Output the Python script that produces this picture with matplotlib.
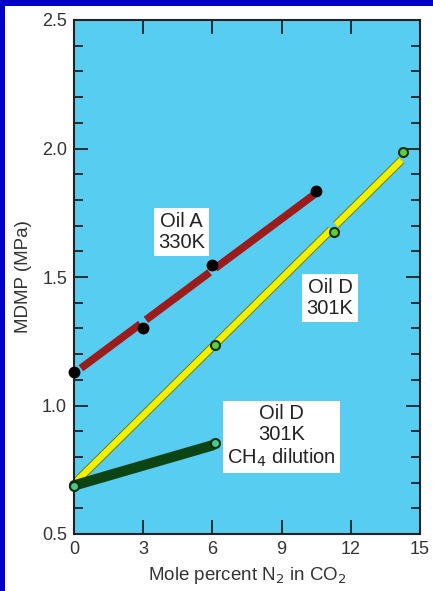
import matplotlib
matplotlib.use("Agg")
import matplotlib.pyplot as plt
from matplotlib.patches import Rectangle
from matplotlib.ticker import MultipleLocator
import numpy as np

plt.rcParams['font.family'] = ['Liberation Sans', 'DejaVu Sans']

# measured points
oil_a_x = [0.0, 3.0, 6.0, 10.5]
oil_a_y = [1.13, 1.30, 1.545, 1.835]
oil_d_x = [0.0, 6.1, 11.25, 14.25]
oil_d_y = [0.69, 1.235, 1.675, 1.985]
ch4_x = [0.0, 6.1]
ch4_y = [0.685, 0.853]

# fitted lines (end points)
oil_a_fit_x = [0.3, 10.4]
oil_a_fit_y = [1.145, 1.82]
oil_d_fit_x = [0.05, 14.2]
oil_d_fit_y = [0.70, 1.955]
ch4_fit_x = [0.05, 6.0]
ch4_fit_y = [0.69, 0.845]

x_ticks = [0, 3, 6, 9, 12, 15]
y_ticks = [0.5, 1.0, 1.5, 2.0, 2.5]

fig = plt.figure(figsize=(4.33, 5.91), dpi=100)
fig.patch.set_facecolor('#0000c4')
fig.patches.append(Rectangle((5 / 433, 0), 1, 585 / 591, transform=fig.transFigure,
                             facecolor='white', edgecolor='none', zorder=-10))

ax = fig.add_axes([74 / 433, 57 / 591, 346 / 433, 514 / 591])
ax.set_facecolor('#58cdf2')


def broken_line(fx, fy, breaks, gap, **kw):
    # draw the fit line in pieces, leaving a small gap at each inner point
    x0, x1 = fx
    slope = (fy[1] - fy[0]) / (x1 - x0)
    edges = [x0]
    for b in breaks:
        edges += [b - gap, b + gap]
    edges.append(x1)
    for a, b in zip(edges[::2], edges[1::2]):
        xs = np.array([a, b])
        ax.plot(xs, fy[0] + slope * (xs - x0), solid_capstyle='butt', **kw)


broken_line(oil_a_fit_x, oil_a_fit_y, oil_a_x[1:3], 0.12,
            color='#9c1c1c', lw=5.5, zorder=2)
broken_line(oil_d_fit_x, oil_d_fit_y, oil_d_x[1:3], 0.1,
            color='#6f7a10', lw=6, zorder=2)
broken_line(oil_d_fit_x, oil_d_fit_y, oil_d_x[1:3], 0.1,
            color='#f2f200', lw=4.6, zorder=2)
ax.plot(ch4_fit_x, ch4_fit_y, color='#0c4414', lw=7.5, solid_capstyle='round', zorder=2)

ax.plot(oil_a_x, oil_a_y, 'o', color='black', ms=7.5, zorder=4, clip_on=False)
ax.plot(oil_d_x, oil_d_y, 'o', mfc='#5ccf3a', mec='#10300c', mew=1.5, ms=6.5,
        zorder=4, clip_on=False)
ax.plot(ch4_x, ch4_y, 'o', mfc='#48c890', mec='#10300c', mew=1.5, ms=6.5,
        zorder=4, clip_on=False)

box = dict(facecolor='white', edgecolor='none', pad=3)
ax.text(4.67, 1.675, 'Oil A\n330K', ha='center', va='center', fontsize=14.5,
        color='#222222', bbox=box, linespacing=1.15, zorder=5)
ax.text(11.1, 1.418, 'Oil D\n301K', ha='center', va='center', fontsize=14.5,
        color='#222222', bbox=box, linespacing=1.15, zorder=5)
ax.text(9.0, 0.88, 'Oil D\n301K\nCH$_4$ dilution', ha='center', va='center',
        fontsize=14.5, color='#222222', bbox=box, linespacing=1.15, zorder=5)

ax.set_xlim(0, 15)
ax.set_ylim(0.5, 2.5)
ax.set_xticks(x_ticks)
ax.set_yticks(y_ticks)
ax.set_yticklabels([f'{v:.1f}' for v in y_ticks])
ax.yaxis.set_minor_locator(MultipleLocator(0.1))
ax.tick_params(which='both', direction='in', top=True, right=True,
               labelsize=13, labelcolor='#333333', width=1.3, color='#222222')
ax.tick_params(which='major', length=10, pad=5)
ax.tick_params(which='minor', length=6.5)
for s in ax.spines.values():
    s.set_linewidth(1.5)
    s.set_color('#222222')

ax.set_xlabel('Mole percent N$_2$ in CO$_2$', fontsize=13.5, color='#333333', labelpad=5)
ax.set_ylabel('MDMP (MPa)', fontsize=13.5, color='#333333', labelpad=7)

fig.savefig('out.png', dpi=100, facecolor=fig.get_facecolor())
